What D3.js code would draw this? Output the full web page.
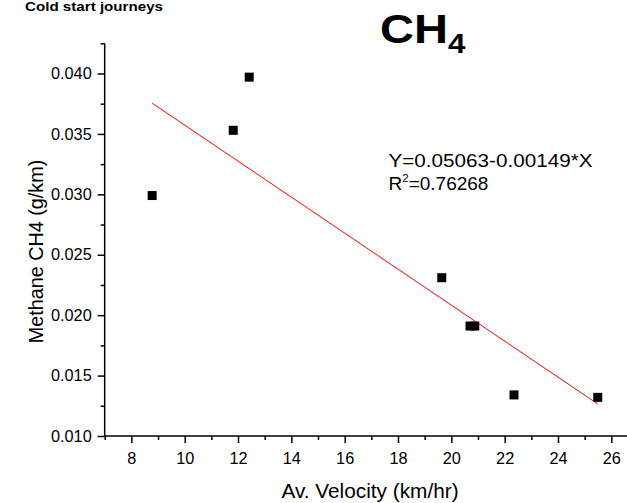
<!DOCTYPE html>
<html>
<head>
<meta charset="utf-8">
<script src="https://cdn.jsdelivr.net/npm/d3@7"></script>
<style>
  html, body { margin: 0; padding: 0; background: #fff; }
  svg { display: block; }
  text { font-family: "Liberation Sans", Arial, Helvetica, sans-serif; fill: #000; }
</style>
</head>
<body>
<svg id="chart" width="627" height="503"></svg>
<script>
// ---- data ----
const velocity = [8.78, 11.82, 12.42, 19.64, 20.70, 20.88, 22.35, 25.49];
const methane  = [0.0299, 0.0353, 0.0397, 0.0231, 0.0191, 0.0191, 0.0134, 0.0132];
const fitIntercept = 0.05063;
const fitSlope = -0.00149;
const fitR2 = "0.76268";
const xTickValues = [8, 10, 12, 14, 16, 18, 20, 22, 24, 26];
const xMinorValues = [7, 9, 11, 13, 15, 17, 19, 21, 23, 25, 27];
const yTickValues = [0.010, 0.015, 0.020, 0.025, 0.030, 0.035, 0.040];
const yMinorValues = [0.0125, 0.0175, 0.0225, 0.0275, 0.0325, 0.0375, 0.0425];
const titleMain = "CH";
const titleSub = "4";
const cornerNote = "Cold start journeys";
const xTitle = "Av. Velocity (km/hr)";
const yTitle = "Methane CH4 (g/km)";

const svg = d3.select("#chart");
const x = d3.scaleLinear().domain([7, 27]).range([104.7, 638]);
const y = d3.scaleLinear().domain([0.010, 0.0425]).range([436, 43.3]);

// axes
const xAxis = svg.append("g").attr("transform", `translate(0,${y(0.010)})`)
  .call(d3.axisBottom(x).tickValues(xTickValues).tickSize(7).tickPadding(9).tickFormat(d3.format("d")));
xAxis.selectAll("text").attr("font-size", 16.3).attr("dy", "0.71em");
const xMinor = svg.append("g").attr("transform", `translate(0,${y(0.010)})`)
  .call(d3.axisBottom(x).tickValues(xMinorValues).tickSize(4).tickFormat(""));

const yAxis = svg.append("g").attr("transform", `translate(${x(7)},0)`)
  .call(d3.axisLeft(y).tickValues(yTickValues).tickSize(7).tickPadding(6).tickFormat(d3.format(".3f")));
yAxis.selectAll("text").attr("font-size", 16.3);
const yMinor = svg.append("g").attr("transform", `translate(${x(7)},0)`)
  .call(d3.axisLeft(y).tickValues(yMinorValues).tickSize(4).tickFormat(""));

svg.selectAll(".domain").attr("stroke", "#000").attr("stroke-width", 1.5);
svg.selectAll(".tick line").attr("stroke", "#000").attr("stroke-width", 1.5);
xMinor.select(".domain").remove();
yMinor.select(".domain").remove();
yAxis.select(".domain").attr("d", `M0,${y(0.0425)}V${y(0.010)}`);
xAxis.select(".domain").attr("d", `M${x(7)},0H${x(27)}`);

// fit line
const xs = d3.extent(velocity);
svg.append("line")
  .attr("x1", x(xs[0])).attr("y1", y(fitIntercept + fitSlope * xs[0]))
  .attr("x2", x(xs[1])).attr("y2", y(fitIntercept + fitSlope * xs[1]))
  .attr("stroke", "#ff0000").attr("stroke-width", 1);

// points
const s = 9;
svg.append("g").selectAll("rect").data(velocity.map((v, i) => [v, methane[i]]))
  .join("rect")
  .attr("x", d => x(d[0]) - s / 2).attr("y", d => y(d[1]) - s / 2)
  .attr("width", s).attr("height", s).attr("fill", "#000");

// titles
svg.append("text").attr("x", 25).attr("y", 10.5)
  .attr("font-size", 13.5).attr("font-weight", "bold")
  .attr("textLength", 138).attr("lengthAdjust", "spacingAndGlyphs").text(cornerNote);

const t = svg.append("text").attr("x", 380).attr("y", 43.3).attr("font-weight", "bold");
t.append("tspan").attr("font-size", 41).attr("textLength", 68).attr("lengthAdjust", "spacingAndGlyphs").text(titleMain);
svg.append("text").attr("x", 448).attr("y", 53.3).attr("font-weight", "bold")
  .attr("font-size", 28).attr("textLength", 17.5).attr("lengthAdjust", "spacingAndGlyphs").text(titleSub);

svg.append("text").attr("x", 370).attr("y", 498).attr("text-anchor", "middle")
  .attr("font-size", 20.8).text(xTitle);
svg.append("text").attr("transform", "translate(42.7,251.5) rotate(-90)").attr("text-anchor", "middle")
  .attr("font-size", 19.8).text(yTitle);

// equation
svg.append("text").attr("x", 388.5).attr("y", 166.7).attr("font-size", 19)
  .attr("textLength", 204).attr("lengthAdjust", "spacingAndGlyphs")
  .text(`Y=${fitIntercept.toFixed(5)}-${Math.abs(fitSlope).toFixed(5)}*X`);
const r = svg.append("text").attr("x", 388.5).attr("y", 190).attr("font-size", 19);
r.append("tspan").text("R");
r.append("tspan").attr("font-size", 11.5).attr("dy", -8).text("2");
r.append("tspan").attr("dy", 8).text("=" + fitR2);
</script>
</body>
</html>
